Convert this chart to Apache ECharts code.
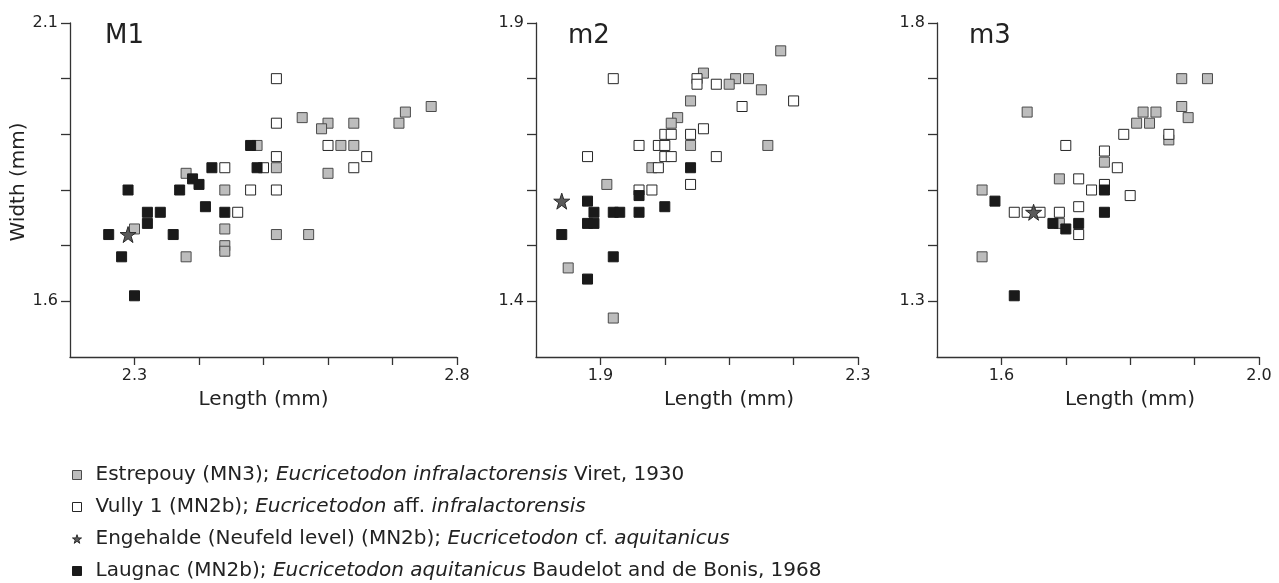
<!DOCTYPE html>
<html>
<head>
<meta charset="utf-8">
<script src="https://cdn.jsdelivr.net/npm/echarts@6/dist/echarts.min.js"></script>
<style>
  html, body { margin: 0; padding: 0; background: #fff; }
  #chart { width: 1279px; height: 583px; }
</style>
</head>
<body>
<div id="chart"></div>
<script>
// Tooth measurements (length, width in mm) per locality, one set per tooth position.
const m1Estrepouy = [[2.76,1.95],[2.72,1.94],[2.71,1.92],[2.56,1.93],[2.60,1.92],[2.64,1.92],[2.59,1.91],[2.49,1.88],[2.62,1.88],[2.64,1.88],[2.52,1.84],[2.60,1.83],[2.38,1.83],[2.44,1.80],[2.44,1.73],[2.44,1.70],[2.44,1.69],[2.52,1.72],[2.57,1.72],[2.38,1.68],[2.30,1.73]];
const m1Vully = [[2.52,2.00],[2.52,1.92],[2.52,1.86],[2.52,1.80],[2.60,1.88],[2.66,1.86],[2.64,1.84],[2.44,1.84],[2.48,1.80],[2.46,1.76],[2.50,1.84]];
const m1Laugnac = [[2.26,1.72],[2.28,1.68],[2.30,1.61],[2.29,1.80],[2.32,1.76],[2.34,1.76],[2.32,1.74],[2.36,1.72],[2.37,1.80],[2.39,1.82],[2.40,1.81],[2.41,1.77],[2.42,1.84],[2.44,1.76],[2.48,1.88],[2.49,1.84]];
const m1Engehalde = [[2.29,1.72]];

const m2Estrepouy = [[2.18,1.85],[2.06,1.81],[2.11,1.80],[2.13,1.80],[2.10,1.79],[2.15,1.78],[2.04,1.76],[2.02,1.73],[2.01,1.72],[2.04,1.68],[2.16,1.68],[1.98,1.64],[1.91,1.61],[1.85,1.46],[1.92,1.37]];
const m2Vully = [[1.92,1.80],[2.05,1.80],[2.05,1.79],[2.08,1.79],[2.20,1.76],[2.12,1.75],[2.06,1.71],[2.00,1.70],[2.01,1.70],[2.04,1.70],[1.96,1.68],[1.99,1.68],[2.00,1.68],[1.88,1.66],[2.00,1.66],[2.01,1.66],[2.08,1.66],[1.99,1.64],[1.96,1.60],[1.98,1.60],[2.04,1.61]];
const m2Laugnac = [[2.04,1.64],[1.96,1.59],[1.88,1.58],[1.89,1.56],[1.92,1.56],[1.93,1.56],[1.96,1.56],[2.00,1.57],[1.88,1.54],[1.89,1.54],[1.84,1.52],[1.92,1.48],[1.88,1.44]];
const m2Engehalde = [[1.84,1.58]];

const m3Estrepouy = [[1.88,1.70],[1.92,1.70],[1.88,1.65],[1.89,1.63],[1.82,1.64],[1.84,1.64],[1.81,1.62],[1.83,1.62],[1.86,1.59],[1.64,1.64],[1.76,1.55],[1.69,1.52],[1.57,1.50],[1.69,1.44],[1.57,1.38]];
const m3Vully = [[1.79,1.60],[1.86,1.60],[1.70,1.58],[1.76,1.57],[1.78,1.54],[1.72,1.52],[1.74,1.50],[1.76,1.51],[1.80,1.49],[1.62,1.46],[1.64,1.46],[1.66,1.46],[1.69,1.46],[1.72,1.47],[1.72,1.42]];
const m3Laugnac = [[1.59,1.48],[1.76,1.50],[1.76,1.46],[1.68,1.44],[1.72,1.44],[1.70,1.43],[1.62,1.31]];
const m3Engehalde = [[1.65,1.46]];

// Panel titles and axis extents / labelled ticks
const panelTitles = ['M1', 'm2', 'm3'];
const xRanges = [[2.2, 2.8], [1.8, 2.3], [1.5, 2.0]];
const yRanges = [[1.5, 2.1], [1.3, 1.9], [1.2, 1.8]];
const xTickLabels = [[2.3, 2.8], [1.9, 2.3], [1.6, 2.0]];
const yTickLabels = [[1.6, 2.1], [1.4, 1.9], [1.3, 1.8]];

const seriesNames = [
  'Estrepouy (MN3); {i|Eucricetodon infralactorensis} Viret, 1930',
  'Vully 1 (MN2b); {i|Eucricetodon} aff. {i|infralactorensis}',
  'Engehalde (Neufeld level) (MN2b); {i|Eucricetodon} cf. {i|aquitanicus}',
  'Laugnac (MN2b); {i|Eucricetodon aquitanicus} Baudelot and de Bonis, 1968'
];
const panelData = [
  { est: m1Estrepouy, vul: m1Vully, eng: m1Engehalde, lau: m1Laugnac },
  { est: m2Estrepouy, vul: m2Vully, eng: m2Engehalde, lau: m2Laugnac },
  { est: m3Estrepouy, vul: m3Vully, eng: m3Engehalde, lau: m3Laugnac }
];

const FONT = 'DejaVu Sans';
const INK = '#222222';
const STAR = 'path://M50,2 L61.2,36 L97,36 L68,57 L79,92 L50,71 L21,92 L32,57 L3,36 L38.8,36 Z';

const styles = {
  est: { symbol: 'rect', size: 10, item: { color: '#bdbdbd', borderColor: '#4a4a4a', borderWidth: 1, opacity: 1 } },
  vul: { symbol: 'rect', size: 10, item: { color: '#ffffff', borderColor: '#262626', borderWidth: 1, opacity: 1 } },
  lau: { symbol: 'rect', size: 10, item: { color: '#1a1a1a', borderColor: '#1a1a1a', borderWidth: 1, opacity: 1 } },
  eng: { symbol: STAR, size: 16, item: { color: '#5a5a5a', borderColor: '#2a2a2a', borderWidth: 1, opacity: 1 } }
};
const nameOf = { est: seriesNames[0], vul: seriesNames[1], eng: seriesNames[2], lau: seriesNames[3] };

const grids = [
  { left: 70, top: 23, width: 387, height: 334 },
  { left: 536, top: 23, width: 322, height: 334 },
  { left: 937, top: 23, width: 322, height: 334 }
];
const titleLeft = [105, 568, 969];
// the "Length (mm)" caption sits half a tick right of centre on the narrower panels
const xNameShift = [0, 64, 64];

const round1 = v => Math.round(v * 10) / 10;
const stepsBetween = (a, b) => {
  const out = [];
  for (let i = Math.round(a * 10); i <= Math.round(b * 10); i++) out.push(i / 10);
  return out;
};

const axisLine = { show: true, onZero: false, lineStyle: { color: '#333333', width: 1.3 } };
const tickLine = { color: '#333333', width: 1.3 };
const labelStyle = { color: INK, fontFamily: FONT, fontSize: 16 };

const xAxes = [], yAxes = [], series = [], titles = [];
panelTitles.forEach((t, i) => {
  const [x0, x1] = xRanges[i];
  const [y0, y1] = yRanges[i];
  xAxes.push({
    type: 'value', gridIndex: i, min: x0, max: x1, interval: 0.1,
    axisLine, splitLine: { show: false },
    axisTick: { show: true, length: 8, customValues: stepsBetween(round1(x0 + 0.1), x1), lineStyle: tickLine },
    axisLabel: { show: true, customValues: xTickLabels[i], margin: 11, formatter: v => v.toFixed(1), ...labelStyle },
    name: 'Length (mm)', nameLocation: 'middle', nameGap: 33,
    nameTextStyle: { color: INK, fontFamily: FONT, fontSize: 20, padding: [0, 0, 0, xNameShift[i]] }
  });
  yAxes.push({
    type: 'value', gridIndex: i, min: y0, max: y1, interval: 0.1,
    axisLine, splitLine: { show: false },
    axisTick: { show: true, length: 9, customValues: stepsBetween(round1(y0 + 0.1), y1), lineStyle: tickLine },
    axisLabel: { show: true, customValues: yTickLabels[i], margin: 12, formatter: v => v.toFixed(1), ...labelStyle },
    name: i === 0 ? 'Width (mm)' : '', nameLocation: 'middle', nameGap: 38, nameRotate: 90,
    nameTextStyle: { color: INK, fontFamily: FONT, fontSize: 20, padding: [0, 0, 0, 16] }
  });
  titles.push({
    text: t, left: titleLeft[i], top: 23, padding: 0,
    textStyle: { color: INK, fontFamily: FONT, fontSize: 26, fontWeight: 'normal' }
  });
  // draw order: grey, white, black, then star on top
  ['est', 'vul', 'lau', 'eng'].forEach(k => {
    series.push({
      name: nameOf[k], type: 'scatter', xAxisIndex: i, yAxisIndex: i,
      data: panelData[i][k], symbol: styles[k].symbol, symbolSize: styles[k].size,
      itemStyle: styles[k].item, emphasis: { disabled: true }, animation: false
    });
  });
});

const chart = echarts.init(document.getElementById('chart'), null, { renderer: 'canvas' });
chart.setOption({
  backgroundColor: '#ffffff',
  animation: false,
  title: titles,
  grid: grids,
  xAxis: xAxes,
  yAxis: yAxes,
  series,
  legend: {
    orient: 'vertical', left: 72, top: 465, itemGap: 12, padding: 0,
    itemWidth: 9, itemHeight: 9, selectedMode: false,
    data: [
      { name: seriesNames[0], icon: 'rect', itemStyle: { color: '#bdbdbd', borderColor: '#4a4a4a', borderWidth: 1 } },
      { name: seriesNames[1], icon: 'rect', itemStyle: { color: '#ffffff', borderColor: '#262626', borderWidth: 1 } },
      { name: seriesNames[2], icon: STAR, itemWidth: 13, itemHeight: 13, itemStyle: { color: '#5a5a5a', borderColor: '#2a2a2a', borderWidth: 1 } },
      { name: seriesNames[3], icon: 'rect', itemStyle: { color: '#1a1a1a', borderColor: '#1a1a1a', borderWidth: 1 } }
    ],
    textStyle: {
      color: INK, fontFamily: FONT, fontSize: 20, lineHeight: 20, padding: [0, 0, 0, 9],
      rich: { i: { fontStyle: 'italic', color: INK, fontFamily: FONT, fontSize: 20, lineHeight: 20 } }
    }
  }
});
</script>
</body>
</html>
